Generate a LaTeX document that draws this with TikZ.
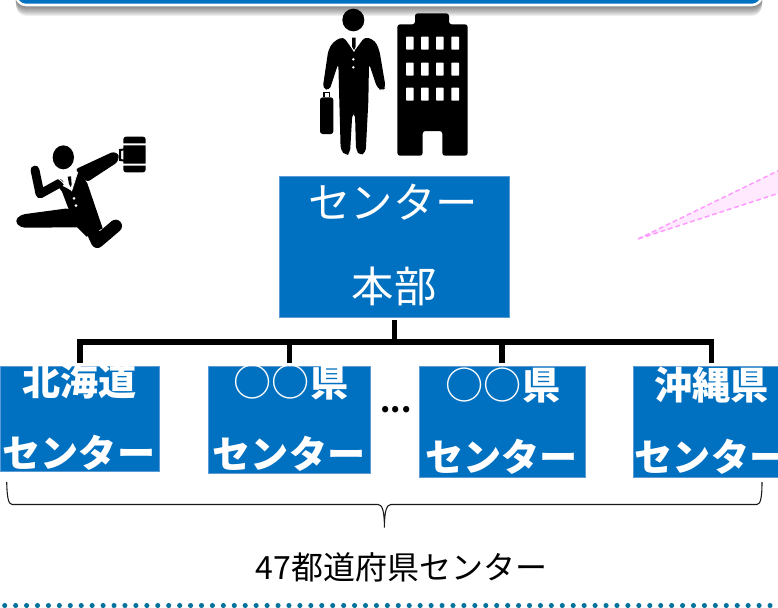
\documentclass[tikz,border=0pt]{standalone}
\usepackage{fontspec}
\setmainfont{Noto Sans CJK JP}
\definecolor{boxblue}{HTML}{0070C0}
\definecolor{boxedge}{HTML}{5B9BD5}
\definecolor{dotteal}{HTML}{00729C}
\definecolor{pinkfill}{HTML}{FFE9FF}
\definecolor{pinkedge}{HTML}{FF99FF}
\tikzset{
  orgbox/.style={draw=boxedge,line width=.4pt,fill=boxblue,inner sep=0pt,rectangle},
  bigtext/.style={text=white,anchor=base,inner sep=0pt,font=\fontsize{31.8pt}{31.8pt}\selectfont},
  smalltext/.style={text=white,anchor=base,inner sep=0pt,font=\fontsize{28.6pt}{28.6pt}\selectfont\bfseries},
  busline/.style={line width=4.2pt,black,line cap=butt,line join=miter},
  bracket/.style={line width=.8pt,black!90},
  pinkbeam/.style={fill=pinkfill,draw=pinkedge,line width=1.1pt,dash pattern=on 3.6pt off 2.2pt},
}
\begin{document}
\begin{tikzpicture}[x=.75pt,y=-.75pt]
\clip (0,0) rectangle (778,607);
\path[use as bounding box] (0,0) rectangle (778,607);
% banner with its shadow
\foreach \i in {1,...,11}{
  \fill[black,opacity=.06,rounded corners=7.5pt] ({15+\i*.1},-30) rectangle ({763-\i*.1},{5+\i});
}
\draw[boxblue,fill=boxblue,rounded corners=7.5pt,draw=white,line width=1.9pt] (16,-30) rectangle (762,5);
% pink beam
\draw[pinkbeam] (638,239) -- (790,165) -- (790,189.6) -- cycle;
% standing man and building
\begin{scope}[shift={(300,0)},x=.25pt,y=-.25pt]
  \fill (160,60) ellipse [x radius=33,y radius=34];
  \fill[rounded corners=3pt] (130,110) -- (100,125) -- (85,150) -- (68,265) -- (88,272) -- (115,190)
    -- (118,305) -- (122,450) -- (137,467) -- (150,460) -- (157,340) -- (165,340) -- (168,450)
    -- (180,467) -- (197,458) -- (205,305) -- (207,190) -- (232,265) -- (248,272) -- (257,262)
    -- (238,150) -- (225,122) -- (195,110) -- (162,155) -- cycle;
  \fill[white] (152,110) -- (170,110) -- (170,140) -- (162,156) -- (152,140) -- cycle;
  \fill (156,113) -- (167,113) -- (167,140) -- (162,150) -- (156,140) -- cycle;
  \fill[white] (160,178) circle [radius=4] (160,202) circle [radius=4];
  \fill[rounded corners=2pt] (60,292) rectangle (100,402);
  \draw[line width=1.2pt] (72,292) -- (72,277) -- (88,277) -- (88,292);
  \fill[rounded corners=2pt] (292,467) -- (292,73) -- (345,73) -- (345,40) -- (447,40) -- (447,73)
    -- (503,73) -- (503,467) -- (427,467) -- (427,393) -- (368,393) -- (368,467) -- cycle;
  \foreach \c in {318,363,408,454}{
    \foreach \r in {110,188,263}{
      \fill[white,rounded corners=.5pt] (\c,\r) rectangle ++(23,39);
    }
  }
\end{scope}
% running man
\begin{scope}[shift={(0,120)},x=.25pt,y=-.25pt]
  \fill (190,112) ellipse [x radius=32,y radius=36];
  \draw[line width=6.6pt,line cap=round,line join=round] (105,150) -- (120,222) -- (178,190);
  \fill[rounded corners=2pt] (226,148) -- (340,95) -- (358,104) -- (352,127) -- (262,186) -- cycle;
  \fill (165,186) -- (215,212) -- (235,148) -- (262,190) -- (308,325) -- (260,350) -- (232,322) -- (205,265) -- (186,215) -- cycle;
  \fill[rounded corners=3pt] (62,284) -- (210,264) -- (245,322) -- (62,323) -- (44,303) -- cycle;
  \draw[line width=9.5pt,line cap=round,line join=round] (262,300) -- (292,365) -- (347,318);
  \draw[white,line width=.7pt] (176,176) -- (215,212) -- (233,156);
  \fill[white] (198,166) -- (216,164) -- (220,196) -- (214,208) -- (203,192) -- cycle;
  \fill (203,170) -- (213,169) -- (215,194) -- (212,201) -- (207,192) -- cycle;
  \fill[white] (222,235) circle [radius=4.5] (228,257) circle [radius=4.5];
  \fill[rounded corners=2pt] (370,50) rectangle (437,157);
  \fill[white] (368,70) rectangle (439,76) (368,131) rectangle (439,137);
  \draw[line width=1.5pt] (374,88) -- (360,90) -- (360,120) -- (374,122);
\end{scope}
% organisation boxes
\node[orgbox,minimum width=172.5pt,minimum height=105.75pt] (hq) at (394.5,246.5) {};
\node[orgbox,minimum width=119.6pt,minimum height=78.75pt] (a) at (79.75,418.5) {};
\node[orgbox,minimum width=121.8pt,minimum height=80.5pt] (b) at (289.5,419.65) {};
\node[orgbox,minimum width=124.3pt,minimum height=83.8pt] (c) at (502.15,421.85) {};
\node[orgbox,minimum width=117.5pt,minimum height=83.8pt] (d) at (711.65,421.85) {};
% connectors
\coordinate (hqstem) at ([yshift=-2.25pt]hq.south);
\coordinate (da) at ([yshift=2.25pt]a.north);
\coordinate (db) at ([yshift=2.25pt]b.north);
\coordinate (dc) at ([yshift=2.25pt]c.north);
\coordinate (dd) at ([yshift=2.25pt]d.north);
\coordinate (busmid) at (394.5,341.7);
\draw[busline] (hqstem) -- (busmid);
\draw[busline] (da) |- (busmid) -| (dd);
\draw[busline] (db) -- (db |- busmid);
\draw[busline] (dc) -- (dc |- busmid);
% box texts
\node[bigtext] (hq1) at (393,218) {センター};
\node[bigtext] (hq2) at (394,302) {本部};
\begin{scope}
  \clip (0,366) rectangle (778,607);
  \node[smalltext] (a1) at (79.5,395) {北海道};
  \node[smalltext] (b1) at (291,396) {{\mdseries ○○}県};
  \node[smalltext] (c1) at (503,399) {{\mdseries ○○}県};
  \node[smalltext] (d1) at (711.7,399) {沖縄県};
\end{scope}
\node[smalltext] (a2) at (79,467) {センター};
\node[smalltext] (b2) at (289,468) {センター};
\node[smalltext] (c2) at (501.5,471) {センター};
\node[smalltext] (d2) at (711,471) {センター};
\node[anchor=base,inner sep=0pt,font=\fontsize{22pt}{22pt}\selectfont\bfseries] (dots) at (396,412.5) {...};
% brace
\coordinate (brl) at (6.7,482);
\coordinate (brr) at (762,482);
\coordinate (brtip) at (384.4,527.5);
\draw[bracket] (brl) .. controls (7,495) and (8,504.5) .. (12,504.5) -- (378,504.5)
  .. controls (382,504.5) and (384.4,510) .. (brtip)
  .. controls (384.4,510) and (387,504.5) .. (391,504.5) -- (757,504.5)
  .. controls (761,504.5) and (762,495) .. (brr);
\node[anchor=base,inner sep=0pt,font=\fontsize{24pt}{24pt}\selectfont] (total) at (401.5,579) {47都道府県センター};
% dotted rule
\coordinate (dotl) at (4.7,605.5);
\coordinate (dotr) at (780,605.5);
\draw[dotteal,line width=3.8pt,line cap=round,dash pattern=on 0pt off 8.2pt] (dotl) -- (dotr);
\end{tikzpicture}
\end{document}
